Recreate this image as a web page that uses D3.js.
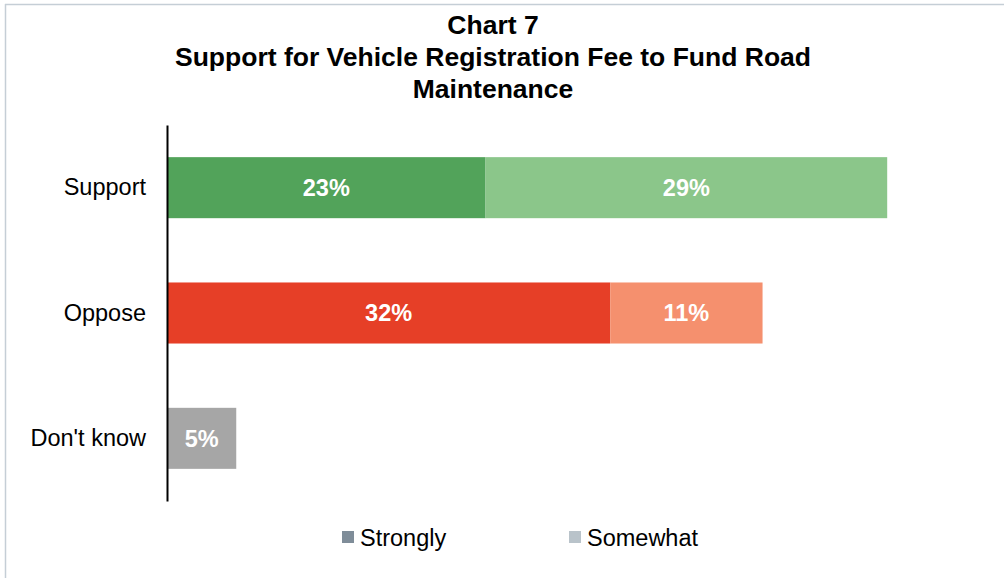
<!DOCTYPE html>
<html>
<head>
<meta charset="utf-8">
<script src="https://cdn.jsdelivr.net/npm/d3@7"></script>
<style>
  body { margin: 0; background: #fff; }
  svg text { font-family: "Liberation Sans", Arial, sans-serif; }
</style>
</head>
<body>
<div id="chart"></div>
<script>
// Chart 7 data
const categories = ['Support', 'Oppose', "Don't know"];
const strongly = [23, 32, 5];
const somewhat = [29, 11, 0];
const seriesNames = ['Strongly', 'Somewhat'];
const titleLines = ['Chart 7', 'Support for Vehicle Registration Fee to Fund Road', 'Maintenance'];

const barColors = {
    'Support': ['#52a35a', '#8bc68a'],
    'Oppose': ['#e63f27', '#f5906e'],
    "Don't know": ['#a6a6a6', '#a6a6a6']
};
const legendColors = ['#7f8d99', '#b9c3ca'];

const width = 1006, height = 578;
const svg = d3.select('#chart').append('svg')
    .attr('width', width)
    .attr('height', height);

// frame (top and left edges visible)
svg.append('line').attr('x1', 5).attr('x2', 1004).attr('y1', 4.5).attr('y2', 4.5)
    .attr('stroke', '#c5ced6').attr('stroke-width', 1.5);
svg.append('line').attr('x1', 5.5).attr('x2', 5.5).attr('y1', 4).attr('y2', 578)
    .attr('stroke', '#c5ced6').attr('stroke-width', 1.5);

// title
const title = svg.append('text')
    .attr('text-anchor', 'middle')
    .attr('font-weight', 'bold')
    .attr('font-size', 26.5)
    .attr('fill', '#000');
titleLines.forEach((t, i) => {
    title.append('tspan').attr('x', 493).attr('y', 34 + i * 32).text(t);
});

const x = d3.scaleLinear().domain([0, 1]).range([167, 167 + 1385]);
const y = d3.scaleBand()
    .domain(categories)
    .range([125, 501])
    .paddingInner(0.513)
    .paddingOuter(0.2565);

const rows = categories.map((c, i) => ({
    cat: c,
    parts: [
        { key: seriesNames[0], v: strongly[i], start: 0 },
        { key: seriesNames[1], v: somewhat[i], start: strongly[i] }
    ].filter(p => p.v > 0)
}));

const g = svg.append('g');
rows.forEach(row => {
    row.parts.forEach((p, j) => {
        const x0 = x(p.start / 100), x1 = x((p.start + p.v) / 100);
        g.append('rect')
            .attr('x', x0)
            .attr('y', y(row.cat))
            .attr('width', x1 - x0)
            .attr('height', y.bandwidth())
            .attr('fill', barColors[row.cat][j]);
        g.append('text')
            .attr('x', (x0 + x1) / 2)
            .attr('y', y(row.cat) + y.bandwidth() / 2)
            .attr('dy', '0.36em')
            .attr('text-anchor', 'middle')
            .attr('font-weight', 'bold')
            .attr('font-size', 23.5)
            .attr('fill', '#fff')
            .text(p.v + '%');
    });
});

// category axis
const axis = svg.append('g')
    .attr('transform', 'translate(167,0)')
    .call(d3.axisLeft(y).tickSize(0).tickPadding(21));
axis.select('.domain').attr('stroke', '#000').attr('stroke-width', 2);
axis.selectAll('text')
    .attr('font-size', 23.5)
    .attr('fill', '#000')
    .attr('font-family', '"Liberation Sans", Arial, sans-serif');

// legend
const legendX = [342, 569];
seriesNames.forEach((s, i) => {
    const lg = svg.append('g').attr('transform', `translate(${legendX[i]},531)`);
    lg.append('rect').attr('width', 12).attr('height', 12).attr('fill', legendColors[i]);
    lg.append('text').attr('x', 18).attr('y', 14.5)
        .attr('font-size', 23.5).attr('fill', '#000').text(s);
});
</script>
</body>
</html>
